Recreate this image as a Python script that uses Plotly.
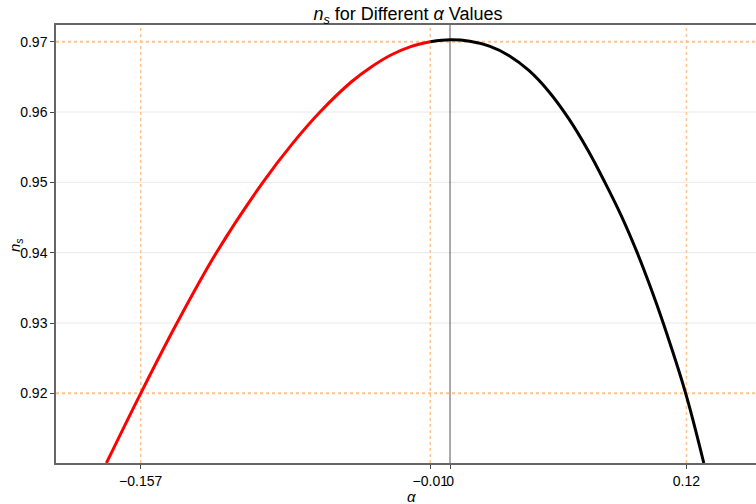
import plotly.graph_objects as go

# Data
alpha_red = [-0.1744, -0.1570, -0.1386, -0.1186, -0.0950, -0.0800, -0.0660, -0.0500, -0.0400, -0.0300, -0.0200, -0.0100]
ns_red = [0.9101, 0.9200, 0.9300, 0.9400, 0.9500, 0.9555, 0.9600, 0.9643, 0.9664, 0.9681, 0.9693, 0.9700]
alpha_black = [-0.0100, 0.0000, 0.0100, 0.0200, 0.0300, 0.0400, 0.0500, 0.0600, 0.0700, 0.0786, 0.0870, 0.0950, 0.1020, 0.1082, 0.1196, 0.1288]
ns_black = [0.9700, 0.97026, 0.97006, 0.96936, 0.96801, 0.96591, 0.96296, 0.95916, 0.95456, 0.9500, 0.9452, 0.9400, 0.9349, 0.9300, 0.9200, 0.9101]

x_tickvals = [-0.157, -0.01, 0.0, 0.12]
x_ticktext = ["−0.157", "−0.01", "0", "0.12"]
y_tickvals = [0.92, 0.93, 0.94, 0.95, 0.96, 0.97]
y_ticktext = ["0.92", "0.93", "0.94", "0.95", "0.96", "0.97"]
grid_y = [0.93, 0.94, 0.95, 0.96]
ref_x = [-0.157, -0.01, 0.12]
ref_y = [0.92, 0.97]

FONT = "Liberation Sans, Arial, sans-serif"
ORANGE = "#FFC48A"

fig = go.Figure()
fig.add_trace(go.Scatter(x=alpha_red, y=ns_red, mode="lines",
                         line=dict(color="#FF0000", width=3, shape="spline", smoothing=1.0), showlegend=False))
fig.add_trace(go.Scatter(x=alpha_black, y=ns_black, mode="lines",
                         line=dict(color="#000000", width=3, shape="spline", smoothing=1.0), showlegend=False))

shapes = []
for gy in grid_y:
    shapes.append(dict(type="line", xref="paper", yref="y", x0=0, x1=1, y0=gy, y1=gy,
                       line=dict(color="#e8e8e8", width=1), layer="below"))
for rx in ref_x:
    shapes.append(dict(type="line", xref="x", yref="paper", x0=rx, x1=rx, y0=0, y1=1,
                       line=dict(color=ORANGE, width=1.5, dash="dot"), layer="below"))
for ry in ref_y:
    shapes.append(dict(type="line", xref="paper", yref="y", x0=0, x1=1, y0=ry, y1=ry,
                       line=dict(color=ORANGE, width=2, dash="dot"), layer="below"))
shapes.append(dict(type="line", xref="x", yref="paper", x0=0, x1=0, y0=0, y1=1,
                   line=dict(color="#555555", width=1), layer="below"))

annotations = [
    dict(text="<i>α</i>", xref="paper", yref="paper", x=(411 - 56) / 700, y=(463 - 496) / 438,
         xanchor="center", yanchor="middle", showarrow=False, font=dict(size=15, family=FONT)),
    dict(text="<i>n<sub>s</sub></i>", xref="paper", yref="paper", x=(15 - 56) / 700, y=(463 - 245) / 438,
         xanchor="center", yanchor="middle", textangle=-90, showarrow=False, font=dict(size=15, family=FONT)),
]

fig.update_layout(
    width=756, height=504,
    margin=dict(l=56, r=0, t=25, b=41, autoexpand=False),
    paper_bgcolor="white", plot_bgcolor="white",
    font=dict(family=FONT, size=14, color="#000000"),
    title=dict(text="<i>n<sub>s</sub></i> for Different <i>α</i> Values",
               x=408/756, xanchor="center", xref="container",
               y=1 - 14/504, yanchor="middle", font=dict(size=18, family=FONT)),
    shapes=shapes,
    annotations=annotations,
    xaxis=dict(range=[-0.2, 0.1553], tickvals=x_tickvals, ticktext=x_ticktext,
               tickangle=0, showgrid=False, zeroline=False, automargin=False,
               showline=True, linecolor="#666666", linewidth=1.5, mirror=True,
               ticks="outside", ticklen=4, tickcolor="#444444",
               tickfont=dict(size=14)),
    yaxis=dict(range=[0.9101, 0.97237], tickvals=y_tickvals, ticktext=y_ticktext,
               showgrid=False, zeroline=False, automargin=False,
               showline=True, linecolor="#666666", linewidth=1.5, mirror=False,
               ticks="outside", ticklen=4, tickcolor="#444444",
               tickfont=dict(size=14)),
)

fig.write_html("out.html", config={"displayModeBar": False},
               post_script="document.body.style.margin='0';document.body.style.overflow='hidden';")
